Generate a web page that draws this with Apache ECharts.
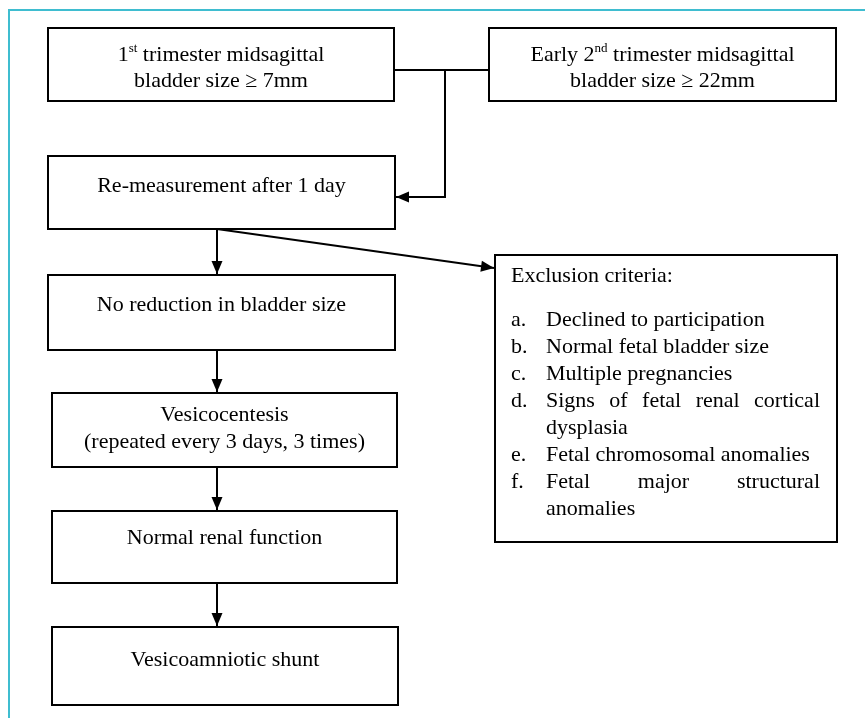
<!DOCTYPE html>
<html>
<head>
<meta charset="utf-8">
<script src="https://cdn.jsdelivr.net/npm/echarts@6/dist/echarts.min.js"></script>
<style>
html,body{margin:0;padding:0;background:#fff;}
#chart{width:865px;height:718px;}
</style>
</head>
<body>
<div id="chart"></div>
<script>
// ---------- content (text) ----------
const entryCriteria = [
  '1{s|st} trimester midsagittal\nbladder size ≥ 7mm',
  'Early 2{s|nd} trimester midsagittal\nbladder size ≥ 22mm'
];
const steps = [
  'Re-measurement after 1 day',
  'No reduction in bladder size',
  'Vesicocentesis\n(repeated every 3 days, 3 times)',
  'Normal renal function',
  'Vesicoamniotic shunt'
];
const exclusionTitle = 'Exclusion criteria:';
const exclusionLabels = ['a.', 'b.', 'c.', 'd.', 'e.', 'f.'];
const exclusionItems = [
  'Declined to participation',
  'Normal fetal bladder size',
  'Multiple pregnancies',
  'Signs of fetal renal cortical dysplasia',
  'Fetal chromosomal anomalies',
  'Fetal major structural anomalies'
];

// ---------- layout ----------
const FONT = '"Liberation Serif", "Times New Roman", Times, serif';
const FS = 22;
const entryBoxes = [
  {x: 48, y: 28, w: 346, h: 73, cy: 68},
  {x: 489, y: 28, w: 347, h: 73, cy: 68}
];
const stepBoxes = [
  {x: 48, y: 156, w: 347, h: 73, cy: 186},
  {x: 48, y: 275, w: 347, h: 75, cy: 305},
  {x: 52, y: 393, w: 345, h: 74, cy: 428.5},
  {x: 52, y: 511, w: 345, h: 72, cy: 538},
  {x: 52, y: 627, w: 346, h: 78, cy: 660}
];
const exBox = {x: 495, y: 255, w: 342, h: 287};
const spineX = 217;

const chart = echarts.init(document.getElementById('chart'), null, {renderer: 'canvas'});
const g = [];
const BLACK = '#000';

function rect(b) {
  g.push({type: 'rect', shape: {x: b.x, y: b.y, width: b.w, height: b.h},
    style: {fill: '#fff', stroke: BLACK, lineWidth: 2}, z: 2});
}
function line(points) {
  g.push({type: 'polyline', shape: {points: points},
    style: {stroke: BLACK, lineWidth: 2, fill: null}, z: 3});
}
function arrowHead(tip, from) {
  const dx = tip[0] - from[0], dy = tip[1] - from[1];
  const len = Math.sqrt(dx * dx + dy * dy);
  const ux = dx / len, uy = dy / len;
  const L = 13, W = 5.5;
  const bx = tip[0] - ux * L, by = tip[1] - uy * L;
  g.push({type: 'polygon', shape: {points: [tip,
      [bx - uy * W, by + ux * W], [bx + uy * W, by - ux * W]]},
    style: {fill: BLACK}, z: 4});
}
function arrow(from, to) {
  line([from, to]);
  arrowHead(to, from);
}
function centerText(txt, cx, cy, lh) {
  g.push({type: 'text', x: cx, y: cy, z: 5,
    style: {text: txt, fill: BLACK, font: FS + 'px ' + FONT, fontSize: FS, fontFamily: FONT,
      align: 'center', verticalAlign: 'middle', lineHeight: lh || 26,
      rich: {s: {fontSize: 13, fontFamily: FONT, lineHeight: 17, verticalAlign: 'top', fill: BLACK}}}});
}
function leftText(txt, x, cy) {
  g.push({type: 'text', x: x, y: cy, z: 5,
    style: {text: txt, fill: BLACK, font: FS + 'px ' + FONT, fontSize: FS, fontFamily: FONT,
      align: 'left', verticalAlign: 'middle'}});
}

// cyan frame
g.push({type: 'polyline', shape: {points: [[9, 718], [9, 10], [865, 10]]},
  style: {stroke: '#3fbdd0', lineWidth: 2, fill: null}, z: 1});

// boxes
entryBoxes.forEach(rect);
stepBoxes.forEach(rect);
rect(exBox);

// entry connectors
const e0 = entryBoxes[0], e1 = entryBoxes[1], s0 = stepBoxes[0];
const joinY = 70, joinX = 445, armY = 197;
line([[e0.x + e0.w, joinY], [e1.x, joinY]]);
line([[joinX, joinY], [joinX, armY], [s0.x + s0.w + 1, armY]]);
arrowHead([s0.x + s0.w + 1, armY], [joinX, armY]);

// vertical step arrows
for (let i = 0; i < stepBoxes.length - 1; i++) {
  const a = stepBoxes[i], b = stepBoxes[i + 1];
  arrow([spineX, a.y + a.h], [spineX, b.y - 1]);
}
// exclusion arrow
arrow([spineX, s0.y + s0.h], [exBox.x - 1, 268]);

// box texts
entryCriteria.forEach((t, i) => {
  const b = entryBoxes[i];
  centerText(t, b.x + b.w / 2, b.cy, 26);
});
steps.forEach((t, i) => {
  const b = stepBoxes[i];
  centerText(t, b.x + b.w / 2, b.cy, 27);
});

// exclusion list with justified wrapping
const ctx = document.createElement('canvas').getContext('2d');
ctx.font = FS + 'px ' + FONT;
const tw = s => ctx.measureText(s).width;
const labelX = 511, itemX = 546, itemRight = 820, maxW = itemRight - itemX;
leftText(exclusionTitle, labelX, 276);
let cy = 320;
const LH = 27;
exclusionItems.forEach((item, i) => {
  leftText(exclusionLabels[i], labelX, cy);
  const words = item.split(' ');
  const lines = [];
  let cur = [];
  words.forEach(w => {
    const test = cur.concat([w]).join(' ');
    if (cur.length && tw(test) > maxW) { lines.push(cur); cur = [w]; }
    else cur.push(w);
  });
  if (cur.length) lines.push(cur);
  lines.forEach((ws, li) => {
    const last = li === lines.length - 1;
    if (last || ws.length < 2) {
      leftText(ws.join(' '), itemX, cy);
    } else {
      const sum = ws.reduce((a, w) => a + tw(w), 0);
      const gap = (maxW - sum) / (ws.length - 1);
      let x = itemX;
      ws.forEach(w => { leftText(w, x, cy); x += tw(w) + gap; });
    }
    cy += LH;
  });
});

chart.setOption({backgroundColor: '#fff', animation: false, graphic: {elements: g}});
</script>
</body>
</html>
